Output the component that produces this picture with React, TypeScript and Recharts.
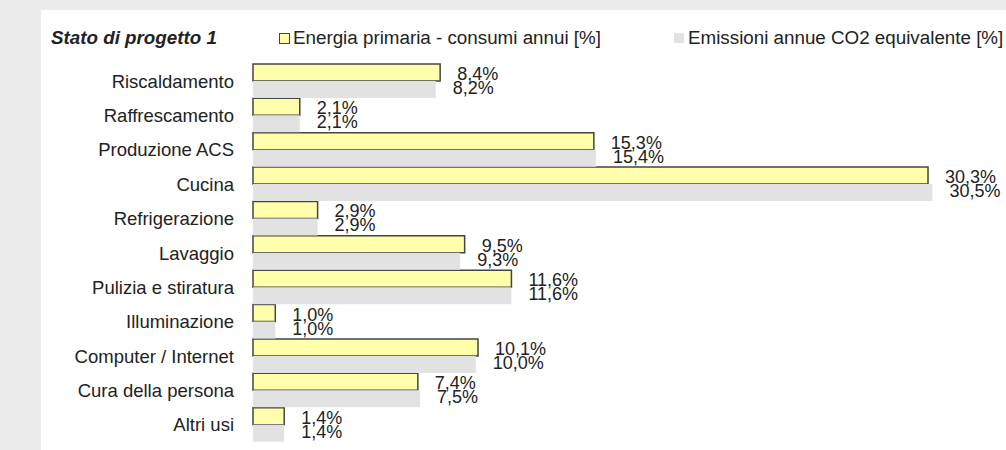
import { BarChart, Bar, XAxis, YAxis, Legend, LabelList } from 'recharts';

const categories = [
  'Riscaldamento',
  'Raffrescamento',
  'Produzione ACS',
  'Cucina',
  'Refrigerazione',
  'Lavaggio',
  'Pulizia e stiratura',
  'Illuminazione',
  'Computer / Internet',
  'Cura della persona',
  'Altri usi',
];
const energia = [8.4, 2.1, 15.3, 30.3, 2.9, 9.5, 11.6, 1.0, 10.1, 7.4, 1.4];
const emissioni = [8.2, 2.1, 15.4, 30.5, 2.9, 9.3, 11.6, 1.0, 10.0, 7.5, 1.4];
const seriesNames = ['Energia primaria - consumi annui [%]', 'Emissioni annue CO2 equivalente [%]'];
const chartTitle = 'Stato di progetto 1';

const data = categories.map((name, i) => ({ name, energia: energia[i], emissioni: emissioni[i] }));

const FONT = '"Liberation Sans", Arial, sans-serif';
const YELLOW = '#ffffab';
const GREY = '#e2e2e2';
const LEGEND_H = 44;

const fmt = (v: number) => `${v.toFixed(1).replace('.', ',')}%`;

function valueLabel(dy: number) {
  return (props: any) => {
    const { x, y, width, height, value } = props;
    return (
      <text
        x={x + width + 17}
        y={y + height / 2 + dy}
        fill="#222"
        fontSize={18}
        fontFamily={FONT}
        dominantBaseline="central"
      >
        {fmt(value)}
      </text>
    );
  };
}

function TopLegend() {
  return (
    <div style={{ position: 'relative', height: LEGEND_H, fontFamily: FONT, fontSize: 18.8, color: '#222' }}>
      <div style={{ position: 'absolute', left: 10, top: 17, fontWeight: 'bold', fontStyle: 'italic', lineHeight: '22px' }}>
        {chartTitle}
      </div>
      <div style={{ position: 'absolute', left: 238, top: 17, lineHeight: '22px', display: 'flex', alignItems: 'center' }}>
        <span style={{ width: 9, height: 9, background: YELLOW, border: '1px solid #444', marginRight: 3 }} />
        {seriesNames[0]}
      </div>
      <div style={{ position: 'absolute', left: 633, top: 17, lineHeight: '22px', display: 'flex', alignItems: 'center', whiteSpace: 'nowrap' }}>
        <span style={{ width: 10, height: 10, background: GREY, marginRight: 4 }} />
        {seriesNames[1]}
      </div>
    </div>
  );
}

export default function App() {
  return (
    <div style={{ position: 'absolute', left: 0, top: 0, width: 1006, height: 450, background: '#ebebeb', overflow: 'hidden' }}>
      <div style={{ position: 'absolute', left: 41, top: 10, width: 965, height: 440, background: '#fff' }}>
        <BarChart
          width={965}
          height={440}
          data={data}
          layout="vertical"
          margin={{ top: 54 - LEGEND_H, right: 0, bottom: 8, left: 0 }}
          barCategoryGap={0}
          barGap={0}
        >
          <XAxis type="number" domain={[0, 33.8]} hide />
          <YAxis
            type="category"
            dataKey="name"
            width={212}
            axisLine={false}
            tickLine={false}
            tickSize={0}
            tickMargin={19}
            tick={{ fill: '#222', fontSize: 18.5, fontFamily: FONT }}
            interval={0}
          />
          <Legend verticalAlign="top" content={() => <TopLegend />} wrapperStyle={{ top: 0, left: 0, width: 965 }} />
          <Bar dataKey="energia" name={seriesNames[0]} fill={YELLOW} stroke="#444" strokeWidth={1.5} isAnimationActive={false}>
            <LabelList dataKey="energia" content={valueLabel(1.5)} />
          </Bar>
          <Bar dataKey="emissioni" name={seriesNames[1]} fill={GREY} isAnimationActive={false}>
            <LabelList dataKey="emissioni" content={valueLabel(-1.5)} />
          </Bar>
        </BarChart>
      </div>
    </div>
  );
}
